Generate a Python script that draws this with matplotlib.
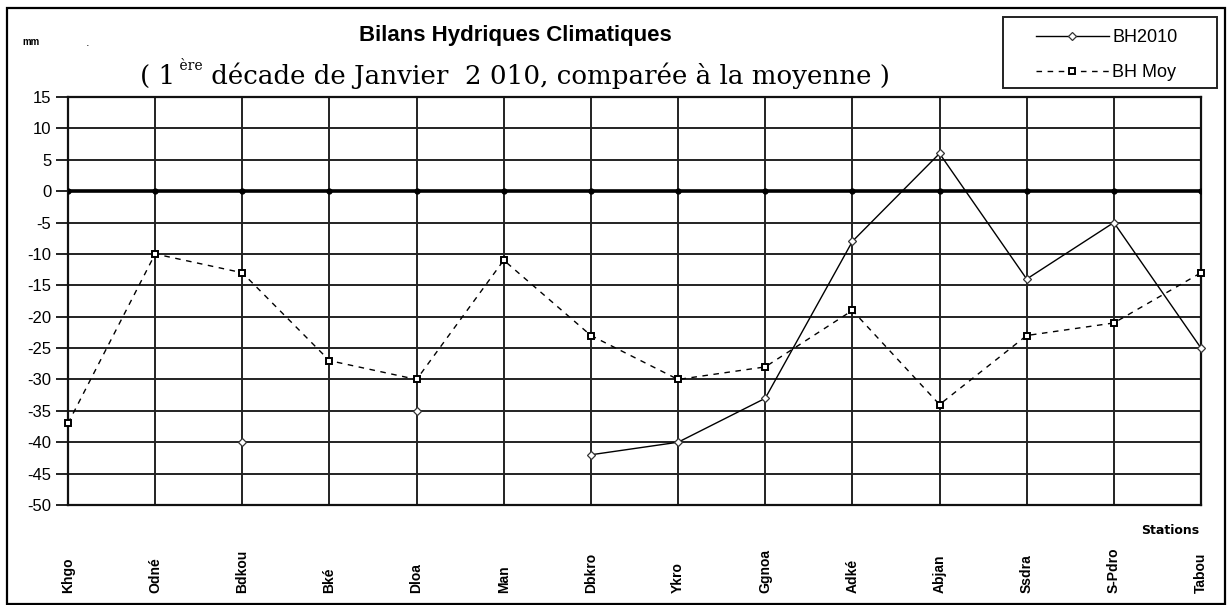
import numpy as np
import matplotlib
matplotlib.use('Agg')
import matplotlib.pyplot as plt
from matplotlib.patches import Rectangle
from matplotlib.lines import Line2D

# data (mm)
stations = ['Khgo', 'Odné', 'Bdkou', 'Bké', 'Dloa', 'Man', 'Dbkro', 'Ykro',
            'Ggnoa', 'Adké', 'Abjan', 'Ssdra', 'S-Pdro', 'Tabou']
bh2010 = [np.nan, np.nan, -40, np.nan, -35, np.nan, -42, -40,
          -33, -8, 6, -14, -5, -25]
bh_moy = [-37, -10, -13, -27, -30, -11, -23, -30,
          -28, -19, -34, -23, -21, -13]
yticks = list(range(-50, 20, 5))

W, H = 1231, 605
fig = plt.figure(figsize=(W / 100, H / 100), dpi=100)
fig.patch.set_facecolor('white')


def fx(px):
    return px / W


def fy(py):
    return 1 - py / H


ax = fig.add_axes([fx(68), fy(505), fx(1201) - fx(68), fy(97) - fy(505)])
x = np.arange(len(stations))

ax.set_xlim(0, len(stations) - 1)
ax.set_ylim(-50, 15)
ax.set_yticks(yticks)
ax.set_yticklabels([str(v) for v in yticks], fontsize=12, family='Liberation Sans')
ax.set_xticks(x)
ax.set_xticklabels([])
ax.tick_params(axis='y', length=9, width=1.4, pad=3, color='#222222')
ax.tick_params(axis='x', length=0)
ax.grid(True, color='#222222', lw=1.4)
ax.set_axisbelow(True)
for s in ax.spines.values():
    s.set_linewidth(1.6)
    s.set_color('#111111')

# thick zero line with small marks at each station
ax.axhline(0, color='black', lw=2.6, zorder=2)
ax.plot(x, np.zeros(len(x)), ls='none', marker='o', ms=3.5, color='black', zorder=3)

ax.plot(x, bh_moy, color='black', lw=1, ls=(0, (4, 4)), marker='s', ms=4.5,
        mfc='white', mec='black', mew=1.4, zorder=4, clip_on=False)
ax.plot(x, bh2010, color='black', lw=1, ls='-', marker='D', ms=4.5,
        mfc='white', mec='#333333', mew=0.9, zorder=5, clip_on=False)

# station labels, bottom aligned, reading upward
tr = matplotlib.transforms.blended_transform_factory(ax.transData, fig.transFigure)
for xi, name in zip(x, stations):
    ax.text(xi, fy(593), name, rotation=90, ha='center', va='bottom',
            fontsize=10, fontweight='bold', family='Liberation Sans',
            transform=tr, clip_on=False)

fig.text(fx(1170), fy(531), 'Stations', ha='center', va='center',
         fontsize=9, fontweight='bold', family='Liberation Sans Narrow')

# titles
fig.text(fx(515), fy(36), 'Bilans Hydriques Climatiques', ha='center', va='center',
         fontsize=16, fontweight='bold', family='Liberation Sans')
t1 = fig.text(fx(140), fy(76), '( 1', ha='left', va='center',
              fontsize=18.8, family='DejaVu Serif')
t2 = fig.text(0, 0, ' ère', fontsize=10, family='DejaVu Serif',
              ha='left', va='bottom')
# place the superscript and the rest right after the previous piece
fig.canvas.draw()
r = fig.canvas.get_renderer()
bb = t1.get_window_extent(r)
t2.set_position((bb.x1 / W, (bb.y0 + 0.6 * bb.height) / H))
bb2 = t2.get_window_extent(r)
fig.text(bb2.x1 / W, fy(76), ' décade de Janvier  2 010, comparée à la moyenne )',
         ha='left', va='center', fontsize=18.8, family='DejaVu Serif')

fig.text(fx(22), fy(42), 'mm', ha='left', va='center', fontsize=7,
         fontweight='bold', family='Liberation Sans')
fig.text(fx(88), fy(43), '.', ha='center', va='center', fontsize=8)

# legend
handles = [
    Line2D([], [], color='black', lw=1, marker='D', ms=4.5, mfc='white',
           mec='#333333', mew=0.9),
    Line2D([], [], color='black', lw=1, ls=(0, (4, 4)), marker='s', ms=4.5,
           mfc='white', mec='black', mew=1.4),
]
fig.legend(handles, ['BH2010', 'BH Moy'], loc='upper left',
           bbox_to_anchor=(fx(1021), fy(14)), frameon=False,
           prop={'family': 'Liberation Sans', 'size': 13},
           handlelength=4.0, handletextpad=0.2, labelspacing=1.0,
           borderpad=0.35)
fig.add_artist(Rectangle((fx(1003), fy(88)), fx(1217) - fx(1003), fy(17) - fy(88),
                         transform=fig.transFigure, fill=False, ec='#222222', lw=1.4))

# outer frame
fig.add_artist(Rectangle((fx(7), fy(604)), fx(1225) - fx(7), fy(8) - fy(604),
                         transform=fig.transFigure, fill=False, ec='black', lw=1.6))

fig.savefig('out.png', dpi=100)
